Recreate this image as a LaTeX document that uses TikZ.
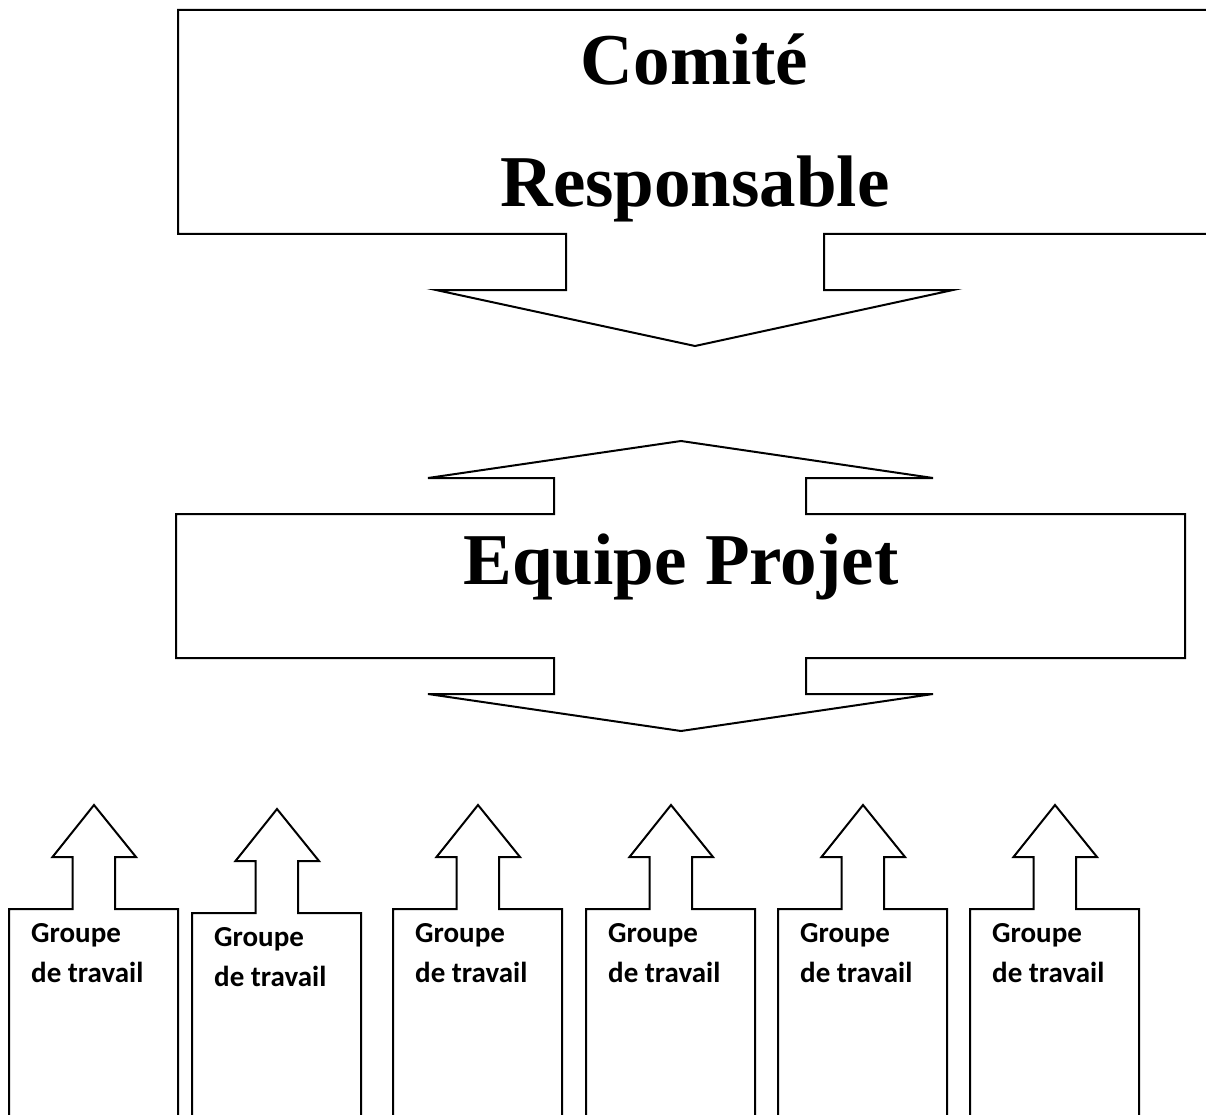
\documentclass[tikz,border=0pt]{standalone}
\usepackage{fontspec}
\setmainfont{Liberation Serif}
\newfontfamily\carlito{Carlito}
\begin{document}
\begin{tikzpicture}[x=1pt,y=-1pt,
  callout/.style={draw=black, line width=2pt, line join=miter, fill=white},
  title/.style={font=\fontsize{73}{80}\selectfont\bfseries, inner sep=0pt, anchor=base},
  grp/.style={font=\carlito\fontsize{29}{34}\selectfont\bfseries, inner sep=0pt, anchor=base west}]
\useasboundingbox (0,0) rectangle (1206,1115);
\clip (0,0) rectangle (1206,1115);
% Comite Responsable callout (down arrow)
\draw[callout] (178,10) -- (1220,10) -- (1220,234) -- (824,234) -- (824,290) -- (953,290)
  -- (695,346) -- (436,290) -- (566,290) -- (566,234) -- (178,234) -- cycle;
\node[title] (comite) at (694.5,85) {Comité};
\node[title] (resp) at (695,207) {Responsable};
% Equipe Projet callout (up and down arrows)
\draw[callout] (681,441) -- (933,478) -- (806,478) -- (806,514) -- (1185,514) -- (1185,658)
  -- (806,658) -- (806,694) -- (933,694) -- (681,731) -- (428,694) -- (554,694) -- (554,658)
  -- (176,658) -- (176,514) -- (554,514) -- (554,478) -- (428,478) -- cycle;
\node[title] (equipe) at (681,584) {Equipe Projet};
% Groupes de travail (up arrows)
\foreach \L/\T/\n in {9/909/1,192/913/2,393/909/3,586/909/4,778/909/5,970/909/6}{
  \draw[callout] (\L,1130) -- (\L,\T) -- ({\L+63.5},\T) -- ({\L+63.5},{\T-52}) -- ({\L+43.5},{\T-52})
    -- ({\L+85},{\T-104}) -- ({\L+127},{\T-52}) -- ({\L+106},{\T-52}) -- ({\L+106},\T)
    -- ({\L+169},\T) -- ({\L+169},1130);
  \node[grp] (g\n a) at ({\L+22},{\T+33}) {Groupe};
  \node[grp] (g\n b) at ({\L+22},{\T+73}) {de travail};
}
\end{tikzpicture}
\end{document}
